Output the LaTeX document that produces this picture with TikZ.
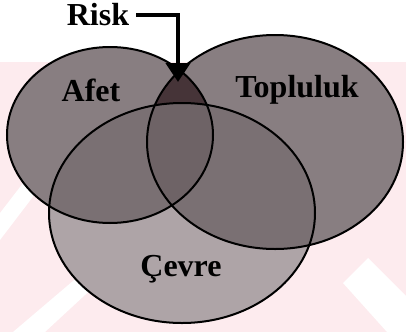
\documentclass[tikz,border=0pt]{standalone}
\usepackage{fontspec}
\setmainfont{Liberation Serif}
\usetikzlibrary{arrows.meta}
\definecolor{bgpink}{RGB}{253,235,238}
\definecolor{cmid}{RGB}{136,126,129}
\definecolor{clight}{RGB}{174,164,167}
\definecolor{cover}{RGB}{122,112,115}
\definecolor{ctriple}{RGB}{110,99,102}
\definecolor{cdark}{RGB}{70,52,56}
\begin{document}
\begin{tikzpicture}[x=1pt,y=-1pt,
  lbl/.style={font=\bfseries\fontsize{32}{34}\selectfont, inner sep=0pt, anchor=base},
  rim/.style={line width=2pt, draw=black},
  riskarrow/.style={line width=4.5pt, draw=black, -{Triangle[width=24pt,length=19pt]}}]
\useasboundingbox (0,0) rectangle (406,332);
% background with faint watermark
\fill[white] (0,0) rectangle (406,332);
\fill[bgpink] (0,62) rectangle (406,332);
\fill[white] (0,213) -- (60,135) -- (80,135) -- (0,240) -- cycle;
\fill[white] (13,332) -- (100,258) -- (125,258) -- (45,332) -- cycle;
\fill[white] (343,283) -- (368,258) -- (406,296) -- (406,332) -- (387,332) -- cycle;
% Topluluk and Afet
\fill[cmid] (275,142) ellipse [x radius=128pt, y radius=107pt];
\fill[cmid] (110,135) ellipse [x radius=103pt, y radius=88pt];
\begin{scope}
  \clip (110,135) ellipse [x radius=103pt, y radius=88pt];
  \fill[cdark] (275,142) ellipse [x radius=128pt, y radius=107pt];
\end{scope}
% Cevre
\fill[clight] (182,213) ellipse [x radius=133pt, y radius=110pt];
\begin{scope}
  \clip (182,213) ellipse [x radius=133pt, y radius=110pt];
  \fill[cover] (110,135) ellipse [x radius=103pt, y radius=88pt];
  \fill[cover] (275,142) ellipse [x radius=128pt, y radius=107pt];
  \begin{scope}
    \clip (110,135) ellipse [x radius=103pt, y radius=88pt];
    \fill[ctriple] (275,142) ellipse [x radius=128pt, y radius=107pt];
  \end{scope}
\end{scope}
% outlines
\draw[rim] (275,142) ellipse [x radius=128pt, y radius=107pt];
\draw[rim] (110,135) ellipse [x radius=103pt, y radius=88pt];
\draw[rim] (182,213) ellipse [x radius=133pt, y radius=110pt];
% labels
\node[lbl] (risk) at (98,25) {Risk};
\node[lbl] (afet) at (91,101) {Afet};
\node[lbl] (toplu) at (297,97) {Topluluk};
\node[lbl] (cevre) at (181,276) {Çevre};
% arrow
\coordinate (rtip) at (178,82);
\draw[riskarrow] ([xshift=7pt]risk.east |- 0,15) -| (rtip);
\end{tikzpicture}
\end{document}
